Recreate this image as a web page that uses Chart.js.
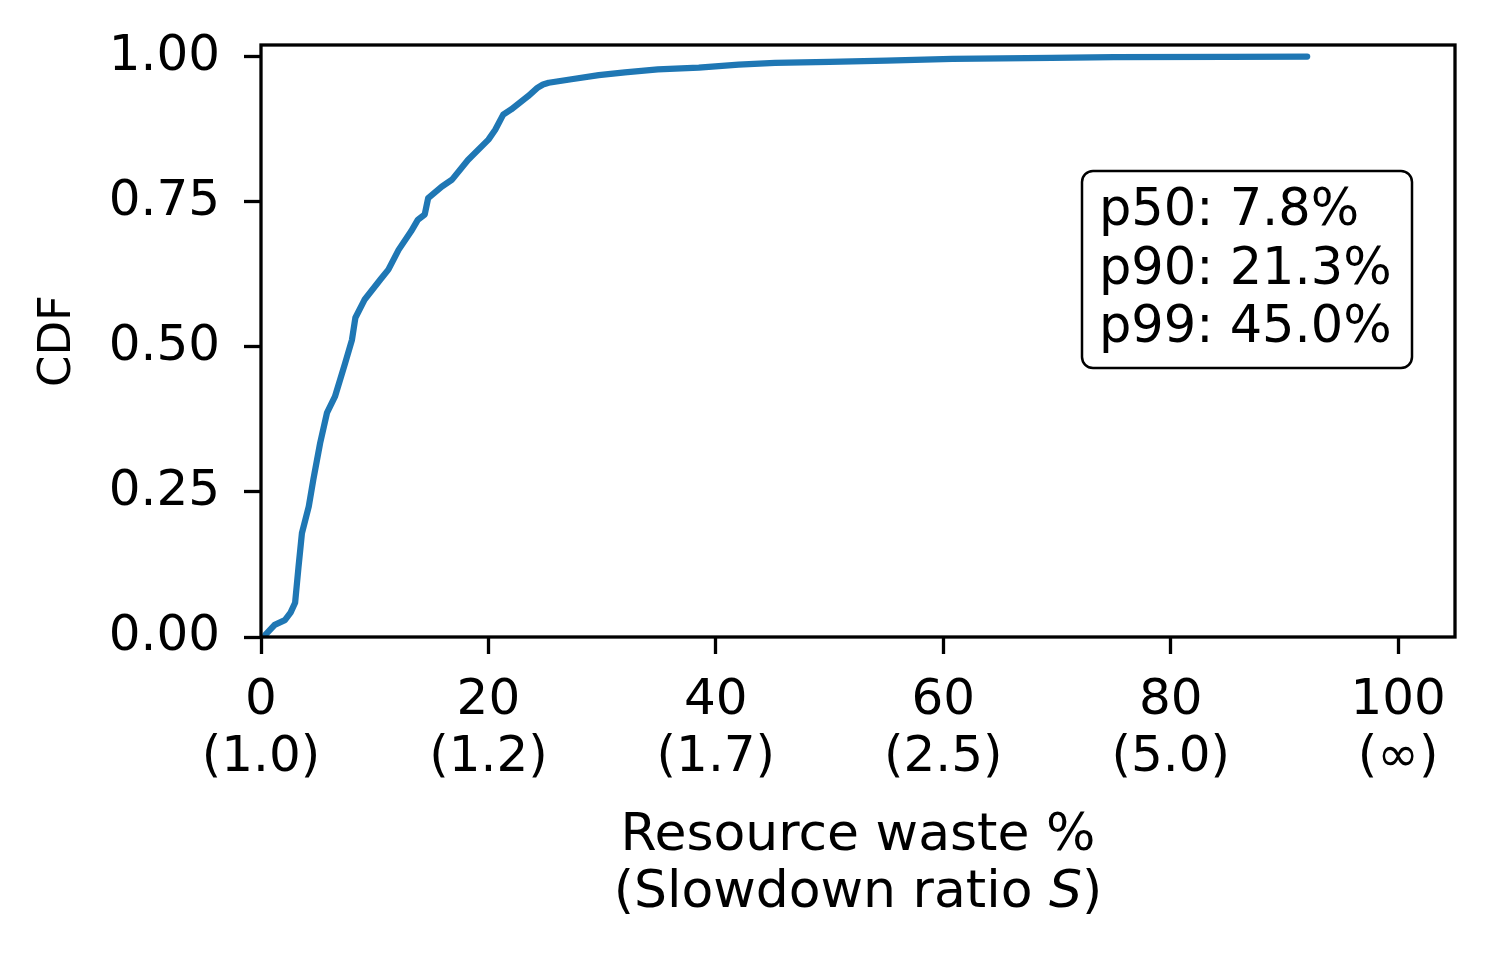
<!DOCTYPE html>
<html>
<head>
<meta charset="utf-8">
<script src="https://cdn.jsdelivr.net/npm/chart.js@4/dist/chart.umd.min.js"></script>
<style>
  html, body { margin: 0; padding: 0; background: #fff; }
  #wrap { width: 1493px; height: 955px; position: relative; }
</style>
</head>
<body>
<div id="wrap"><canvas id="cdf-chart"></canvas></div>
<script>
// ===== 数据 =====
var wastePct = [0.3, 0.4, 1.2, 2.1, 2.6, 3.0, 3.3, 3.6, 4.2, 4.6, 5.2, 5.8, 6.5, 7.4, 8.0, 8.3,
  9.1, 10.5, 11.2, 12.1, 13.2, 13.8, 14.4, 14.7, 15.9, 16.8, 18.2, 20.0, 20.6, 21.3, 22.0,
  23.5, 24.3, 24.8, 25.3, 27.3, 29.7, 32.0, 34.9, 38.5, 42.0, 45.2, 50.0, 55.0, 60.8, 69.5,
  75.0, 85.0, 92.0];
var cdfVals = [0.0, 0.004, 0.021, 0.029, 0.042, 0.059, 0.121, 0.179, 0.225, 0.271, 0.334, 0.386,
  0.414, 0.472, 0.512, 0.550, 0.581, 0.616, 0.633, 0.667, 0.699, 0.719, 0.728, 0.756, 0.776,
  0.788, 0.822, 0.857, 0.874, 0.900, 0.909, 0.932, 0.946, 0.952, 0.955, 0.961, 0.968, 0.973,
  0.978, 0.981, 0.986, 0.989, 0.991, 0.993, 0.996, 0.998, 0.999, 0.9995, 1.0];

var xTickValues = [0, 20, 40, 60, 80, 100];
var xTickLabels = [['0', '(1.0)'], ['20', '(1.2)'], ['40', '(1.7)'], ['60', '(2.5)'], ['80', '(5.0)'], ['100', '(\u221e)']];
var yTickValues = [0, 0.25, 0.5, 0.75, 1.0];
var yTickLabels = ['0.00', '0.25', '0.50', '0.75', '1.00'];
var statsLines = ['p50: 7.8%', 'p90: 21.3%', 'p99: 45.0%'];

var FONT = '"DejaVu Sans", sans-serif';
var LINE_BLUE = '#1f77b4';

// ===== 边框 + 标注 + x 轴标题 =====
var framePlugin = {
  id: 'frame',
  afterDatasetsDraw: function(chart) {
    var a = chart.chartArea, ctx = chart.ctx;
    ctx.save();
    ctx.strokeStyle = '#000';
    ctx.lineWidth = 3.3;
    ctx.strokeRect(a.left, a.top, a.right - a.left, a.bottom - a.top);
    ctx.restore();
  },
  afterDraw: function(chart) {
    var a = chart.chartArea, ctx = chart.ctx;
    ctx.save();
    // 统计框
    var bx = a.left + 821, by = a.top + 126, bw = 330, bh = 197;
    ctx.beginPath();
    ctx.roundRect(bx, by, bw, bh, 11);
    ctx.fillStyle = '#fff';
    ctx.fill();
    ctx.lineWidth = 2.5;
    ctx.strokeStyle = '#000';
    ctx.stroke();
    ctx.fillStyle = '#000';
    ctx.font = '51px ' + FONT;
    ctx.textAlign = 'left';
    ctx.textBaseline = 'alphabetic';
    statsLines.forEach(function(t, i) {
      ctx.fillText(t, a.left + 838, a.top + 180 + i * 58.5);
    });

    // x 轴标题（S 为斜体）
    var cx = (a.left + a.right) / 2;
    var xf = '52px ' + FONT, xfi = 'italic 52px ' + FONT;
    ctx.textAlign = 'center';
    ctx.font = xf;
    ctx.fillText('Resource waste %', cx, 850);
    var p1 = '(Slowdown ratio ', p2 = 'S', p3 = ')';
    var w1 = ctx.measureText(p1).width, w3 = ctx.measureText(p3).width;
    ctx.font = xfi;
    var w2 = ctx.measureText(p2).width;
    var x0 = cx - (w1 + w2 + w3) / 2;
    ctx.textAlign = 'left';
    ctx.font = xf;
    ctx.fillText(p1, x0, 907);
    ctx.font = xfi;
    ctx.fillText(p2, x0 + w1, 907);
    ctx.font = xf;
    ctx.fillText(p3, x0 + w1 + w2, 907);
    ctx.restore();
  }
};

var points = wastePct.map(function(x, i) { return { x: x, y: cdfVals[i] }; });

new Chart(document.getElementById('cdf-chart'), {
  type: 'line',
  data: {
    datasets: [{
      data: points,
      borderColor: LINE_BLUE,
      backgroundColor: 'transparent',
      borderWidth: 6.25,
      pointRadius: 0,
      tension: 0,
      borderCapStyle: 'round',
      borderJoinStyle: 'round'
    }]
  },
  options: {
    responsive: true,
    maintainAspectRatio: false,
    devicePixelRatio: 1,
    animation: false,
    layout: { padding: { top: 45, right: 38, left: 25, bottom: 0 } },
    plugins: { legend: { display: false }, tooltip: { enabled: false } },
    scales: {
      x: {
        type: 'linear',
        min: 0,
        max: 105,
        afterBuildTicks: function(s) { s.ticks = xTickValues.map(function(v) { return { value: v }; }); },
        afterFit: function(s) { s.height = 318; s.paddingLeft = 0; s.paddingRight = 0; },
        border: { display: false },
        grid: { display: true, drawOnChartArea: false, drawTicks: true, tickLength: 17, tickWidth: 3.3, tickColor: '#000' },
        ticks: {
          color: '#000',
          padding: 18,
          maxRotation: 0,
          autoSkip: false,
          font: { family: FONT, size: 50, lineHeight: 1.15 },
          callback: function(v) { return xTickLabels[xTickValues.indexOf(v)]; }
        }
      },
      y: {
        type: 'linear',
        min: 0,
        max: 1.02,
        afterBuildTicks: function(s) { s.ticks = yTickValues.map(function(v) { return { value: v }; }); },
        afterFit: function(s) { s.width = 236; s.paddingTop = 0; s.paddingBottom = 0; },
        border: { display: false },
        grid: { display: true, drawOnChartArea: false, drawTicks: true, tickLength: 17, tickWidth: 3.3, tickColor: '#000' },
        title: { display: true, text: 'CDF', color: '#000', padding: { top: 6, bottom: 0 }, font: { family: FONT, size: 45 } },
        ticks: {
          color: '#000',
          padding: 24,
          autoSkip: false,
          font: { family: FONT, size: 50 },
          callback: function(v) { return yTickLabels[yTickValues.indexOf(v)]; }
        }
      }
    }
  },
  plugins: [framePlugin]
});
</script>
</body>
</html>
